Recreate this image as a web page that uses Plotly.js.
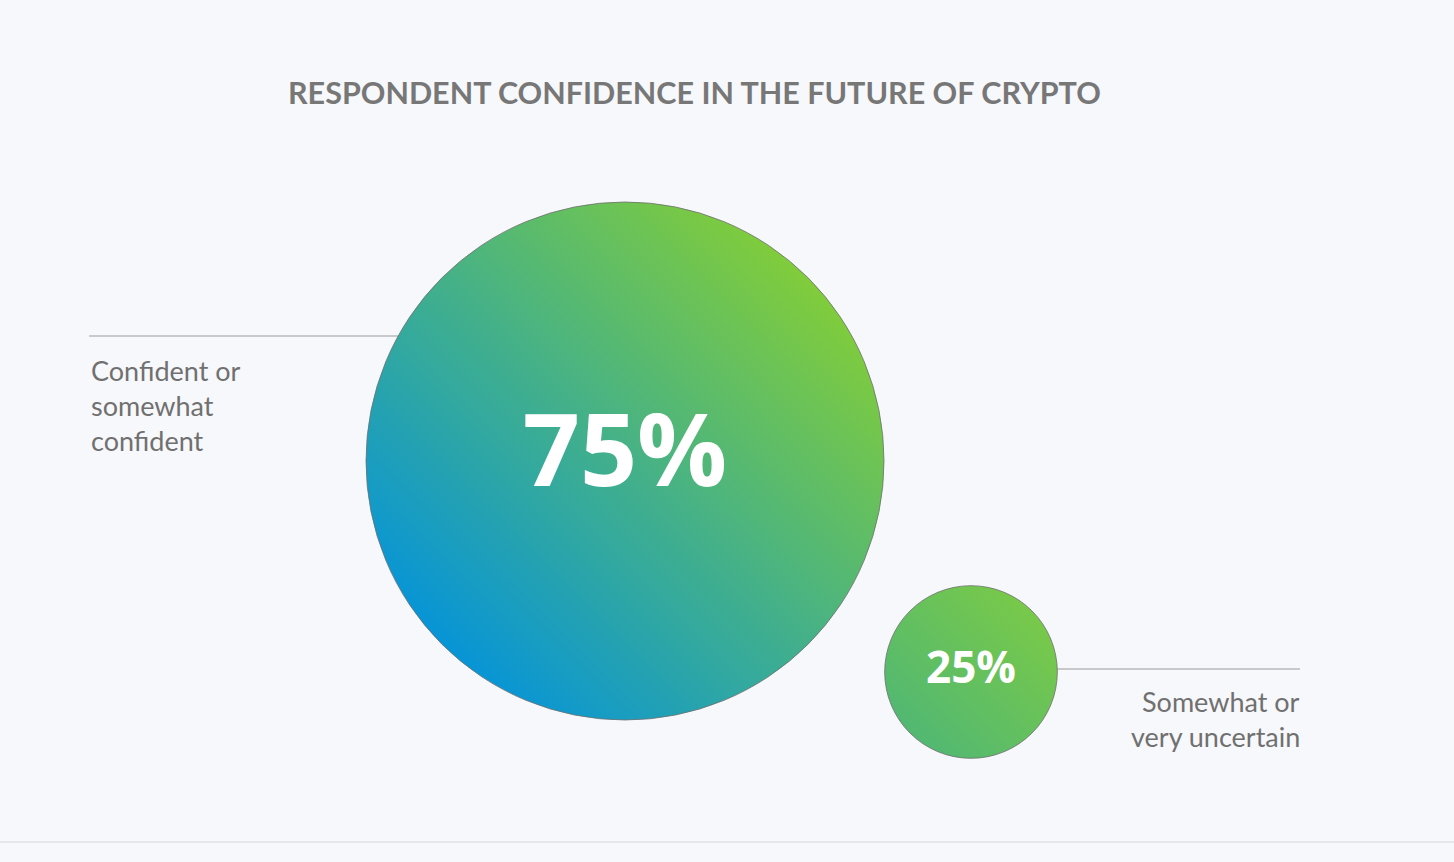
<!DOCTYPE html>
<html>
<head>
<meta charset="utf-8">
<script src="https://cdn.plot.ly/plotly-3.0.1.min.js"></script>
<style>
  html, body { margin: 0; padding: 0; background: #f7f8fb; }
  #chart { width: 1454px; height: 862px; }
</style>
</head>
<body>
<div id="chart"></div>
<script>
// data
const categories = ['Confident or<br>somewhat<br>confident', 'Somewhat or<br>very uncertain'];
const shares = [75, 25];

// layout (pixel space)
const bubbleX = [625, 971];
const bubbleY = [461, 672];
const startColors = ['#0895d6', '#52b872'];
const endColors = ['#80cc3c', '#78c94a'];

const trace = {
    x: bubbleX,
    y: bubbleY,
    mode: 'markers+text',
    type: 'scatter',
    text: shares.map(v => v + '%'),
    textposition: 'middle center',
    textfont: { family: 'Open Sans, sans-serif', size: [100, 44], color: '#ffffff', weight: 700 },
    marker: {
        size: shares,
        sizemode: 'diameter',
        sizeref: 75 / 518,
        color: startColors,
        gradient: { type: 'horizontal', color: endColors },
        line: { color: '#6f6f6f', width: 0.8 },
        opacity: 1
    },
    hoverinfo: 'none',
    cliponaxis: false
};

const labelFont = { family: 'Lato, sans-serif', size: 27, color: '#707070' };
const annotations = [];
// labels are set line by line to get the wide line spacing
categories[0].split('<br>').forEach((line, i) => {
    annotations.push({ x: 89, y: 370 + i * 35, text: line, showarrow: false,
        xanchor: 'left', yanchor: 'middle', font: labelFont });
});
categories[1].split('<br>').forEach((line, i) => {
    annotations.push({ x: 1302, y: 701 + i * 35, text: line, showarrow: false,
        xanchor: 'right', yanchor: 'middle', font: labelFont });
});
annotations.push({
    x: 694, y: 92, text: '<b>RESPONDENT CONFIDENCE IN THE FUTURE OF CRYPTO</b>',
    showarrow: false, xanchor: 'center', yanchor: 'middle',
    font: { family: 'Lato, sans-serif', size: 30.5, color: '#777777' }
});

const layout = {
    width: 1454,
    height: 862,
    margin: { l: 0, r: 0, t: 0, b: 0 },
    paper_bgcolor: '#f7f8fb',
    plot_bgcolor: '#f7f8fb',
    showlegend: false,
    xaxis: { range: [0, 1454], visible: false, fixedrange: true },
    yaxis: { range: [862, 0], visible: false, fixedrange: true },
    annotations: annotations,
    shapes: [
        { type: 'line', x0: 89, x1: 398, y0: 336, y1: 336, line: { color: '#9a9a9a', width: 1 }, layer: 'below' },
        { type: 'line', x0: 1055, x1: 1300, y0: 669, y1: 669, line: { color: '#9a9a9a', width: 1 }, layer: 'below' },
        { type: 'line', x0: 0, x1: 1454, y0: 842, y1: 842, line: { color: '#e0e2e6', width: 1.5 } }
    ]
};

Plotly.newPlot('chart', [trace], layout, { displayModeBar: false, staticPlot: true }).then(gd => {
    // turn the horizontal marker gradients into diagonal ones (blue bottom-left -> green top-right)
    gd.querySelectorAll('defs linearGradient').forEach(g => {
        g.setAttribute('x1', 0.85);
        g.setAttribute('y1', 0.15);
        g.setAttribute('x2', 0.15);
        g.setAttribute('y2', 0.85);
    });
});
</script>
</body>
</html>
